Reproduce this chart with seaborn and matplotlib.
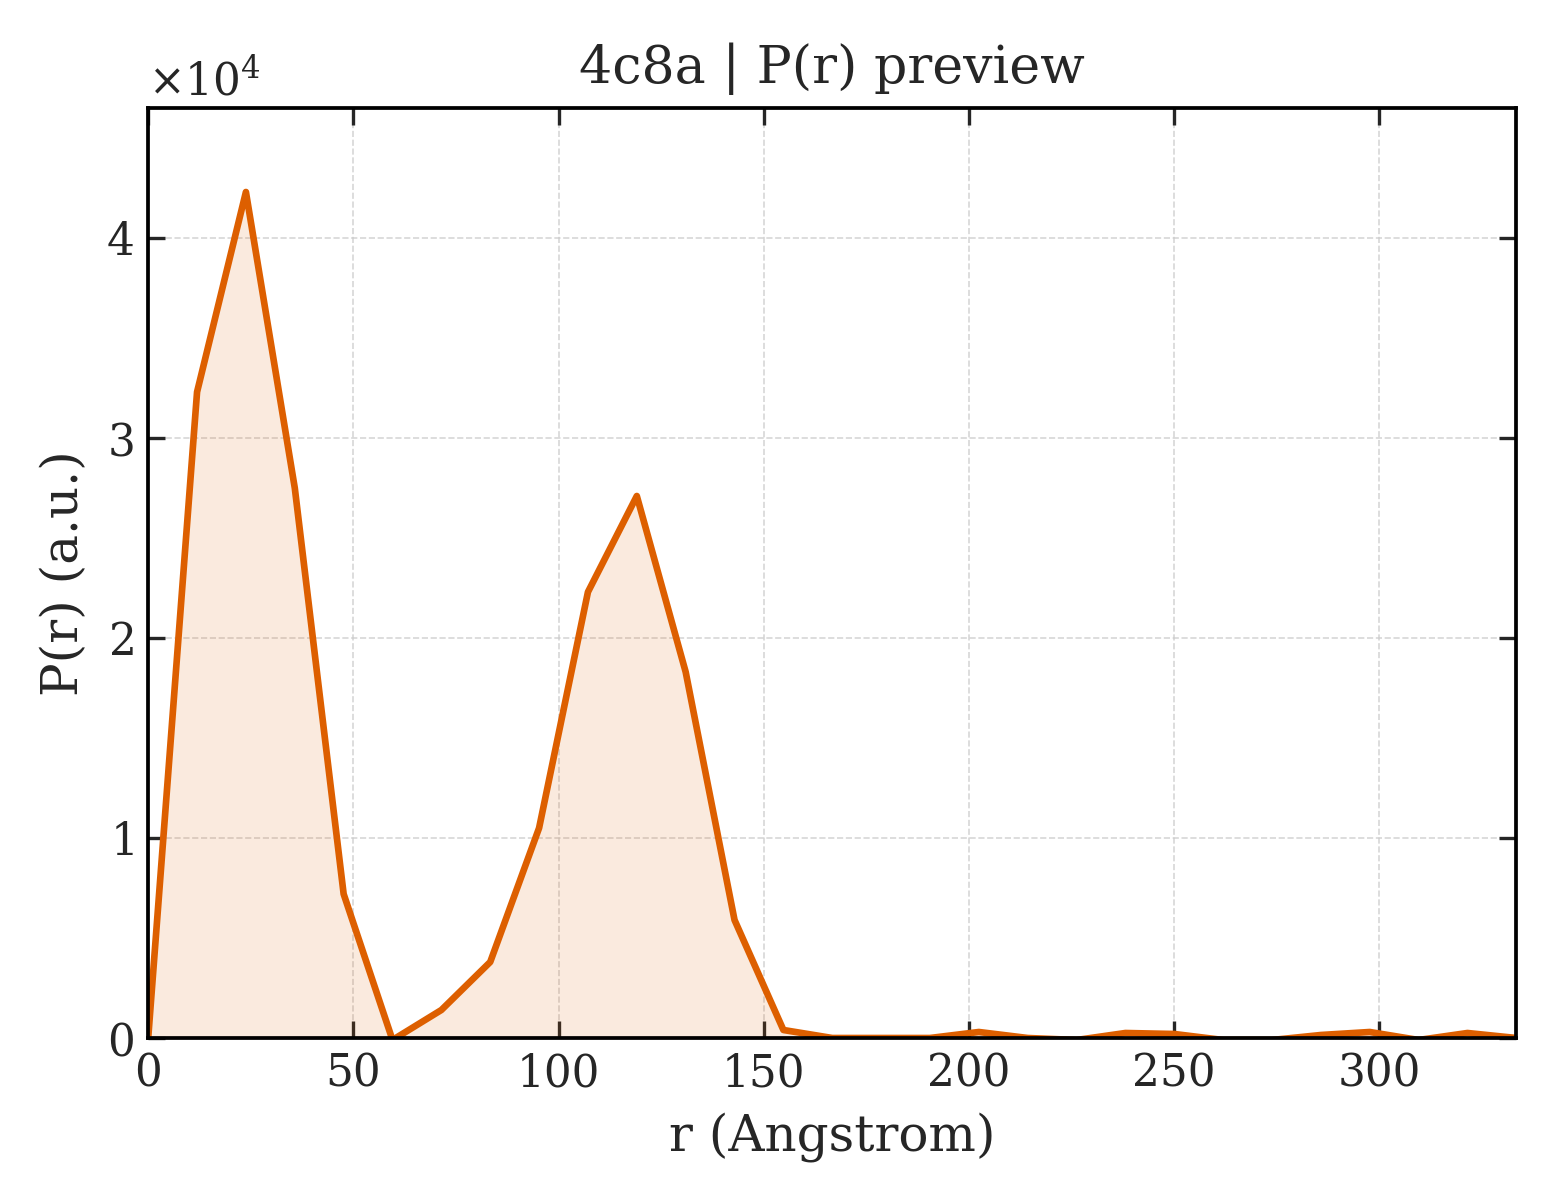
import numpy as np
import pandas as pd
import matplotlib
matplotlib.use("Agg")
import matplotlib.pyplot as plt
import seaborn as sns

# r grid (Angstrom) and P(r) values
r_step = 333.4 / 28
r_values = [i * r_step for i in range(29)]
p_values = [0, 32300, 42300, 27500, 7200, -100, 1400, 3800, 10500, 22300,
            27100, 18300, 5900, 400, 0, 0, 0, 300, 0, -100,
            250, 200, -100, -100, 150, 300, -100, 250, 0]

df = pd.DataFrame({"r": r_values, "P": p_values})

sns.set_theme(style="white")
plt.rcParams["font.family"] = ["DejaVu Serif"]
plt.rcParams["mathtext.fontset"] = "dejavuserif"

color = "#dd5f00"
fig, ax = plt.subplots(figsize=(5.2, 4), dpi=300)
ax.fill_between(df["r"], df["P"], 0, color=color, alpha=0.13, lw=0)
sns.lineplot(data=df, x="r", y="P", ax=ax, color=color, lw=1.6)

ax.set_xlim(0, 333.4)
ax.set_ylim(0, 46500)
ax.set_xticks([0, 50, 100, 150, 200, 250, 300])
ax.ticklabel_format(axis="y", style="sci", scilimits=(0, 0), useMathText=True)
ax.grid(True, ls="--", lw=0.4, color="#cccccc", alpha=0.8)
ax.tick_params(direction="in", top=True, right=True, labelsize=10.5,
               length=4, width=0.8, bottom=True, left=True)
for s in ax.spines.values():
    s.set_linewidth(0.9)
    s.set_color("black")
ax.yaxis.get_offset_text().set_fontsize(10.5)
ax.set_xlabel("r (Angstrom)", fontsize=12)
ax.set_ylabel("P(r) (a.u.)", fontsize=12)
ax.set_title("4c8a | P(r) preview", fontsize=12.5)
fig.subplots_adjust(left=0.095, right=0.972, bottom=0.135, top=0.91)
fig.savefig("out.png", dpi=300)
